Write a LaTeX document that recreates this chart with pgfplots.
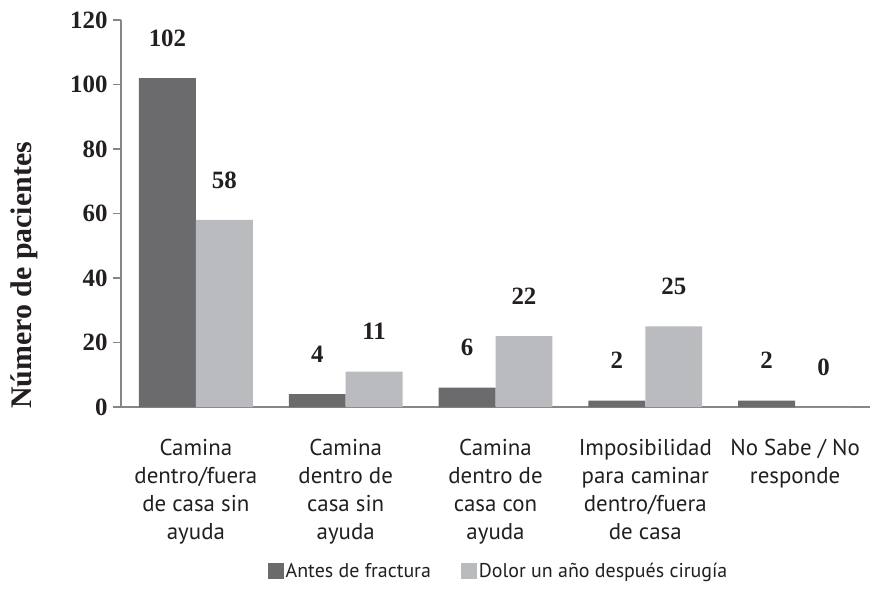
\documentclass[border=0pt]{standalone}
\usepackage{pgfplots}
\pgfplotsset{compat=1.18}
\usepackage{fontspec}
\setmainfont{Liberation Serif}
\newfontfamily\catfont{PT Sans}
\definecolor{darkbar}{HTML}{6B6B6E}
\definecolor{lightbar}{HTML}{BABBBE}
\definecolor{axgray}{HTML}{868686}
\definecolor{txt}{HTML}{231F20}
\begin{document}
\begin{tikzpicture}
\begin{axis}[
  scale only axis, width=749bp, height=387bp,
  ymin=0, ymax=120, xmin=-0.5, xmax=4.5,
  ybar=0pt, bar width=0.38,
  axis x line*=bottom, axis y line*=left,
  axis line style={axgray, line width=1.2bp},
  ytick={0,20,...,120},
  xtick={0,1,2,3,4},
  xticklabels={{Camina\\dentro/fuera\\de casa sin\\ayuda},{Camina\\dentro de\\casa sin\\ayuda},{Camina\\dentro de\\casa con\\ayuda},{Imposibilidad\\para caminar\\dentro/fuera\\de casa},{No Sabe / No\\responde}},
  x tick label style={font=\catfont\fontsize{23}{28}\selectfont, align=center, text=txt, yshift=-21bp},
  major x tick style={draw=none},
  y tick style={axgray, line width=1.2bp},
  tick align=outside, major tick length=8bp,
  y tick label style={font=\bfseries\fontsize{25}{28}\selectfont, text=txt, xshift=-2bp},
  /pgf/number format/assume math mode=true,
  ylabel={Número de pacientes},
  ylabel style={font=\bfseries\fontsize{30}{34}\selectfont, text=txt, at={(axis description cs:-0.129,0.34)}, anchor=center, rotate=0},
  nodes near coords,
  every node near coord/.append style={font=\bfseries\fontsize{25}{28}\selectfont, text=txt, anchor=center, yshift=40bp},
  legend columns=2,
  legend style={draw=none, at={(axis description cs:0.504,-0.424)}, anchor=center, font=\catfont\fontsize{20}{26}\selectfont, text=txt, /tikz/every even column/.append style={column sep=28bp}},
  legend image code/.code={\fill[#1,draw=none] (-3bp,-8bp) rectangle (13bp,8bp);},
  clip=false,
]
\addplot[fill=darkbar, draw=none] coordinates {(0,102) (1,4) (2,6) (3,2) (4,2)};
\addplot[fill=lightbar, draw=none] coordinates {(0,58) (1,11) (2,22) (3,25) (4,0)};
\legend{Antes de fractura, Dolor un año después cirugía}
\end{axis}
\path (current axis.south west) ++(-121bp,-182bp);
\path (current axis.north east) ++(11bp,20bp);
\end{tikzpicture}
\end{document}
